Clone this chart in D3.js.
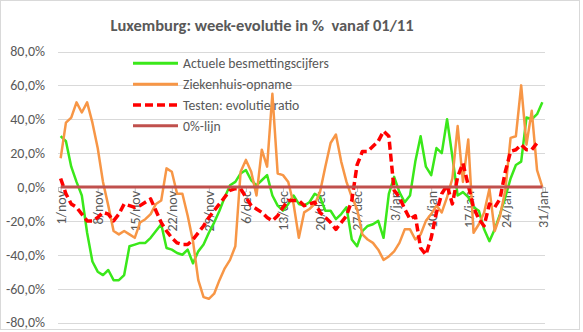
<!DOCTYPE html>
<html>
<head>
<meta charset="utf-8">
<script src="https://cdn.jsdelivr.net/npm/d3@7"></script>
<style>
  body { margin: 0; background: #fff; }
  svg { display: block; }
  text { font-family: Calibri, Carlito, Lato, "Open Sans", sans-serif; fill: #595959; }
</style>
</head>
<body>
<svg id="chart" width="583" height="332"></svg>
<script>
// Daily categories: 1 November 2020 – 31 January 2021
const dates = d3.timeDay.range(new Date(2020, 10, 1), new Date(2021, 1, 1));

// Week-on-week evolution in %, one value per day
const besmettingen = [
  30, 27, 12, 3, -5, -27, -44, -50, -52, -49,
  -55, -55, -52, -35, -34, -33, -33, -30, -26, -22,
  -36, -37, -39, -40, -37, -45, -38, -34, -27, -21,
  -14, -6, 1, 3, 8, 10, 4, 1, 4, 7,
  -5, -11, -14, -10, -5, -10, -11, -9, -4, -6,
  -14, -14, -19, -16, -12, -31, -35, -26, -23, -22,
  -20, -30, -4, 6, -3, -9, -5, 15, 30, 12,
  7, 23, 20, 40, 18, -5, -3, -6, -12, -14,
  -25, -32, -25, -16, -6, 5, 13, 15, 41, 40,
  43, 50
];

const ziekenhuis = [
  17, 38, 41, 50, 44, 50, 38, 23, 3, -11,
  -26, -28, -26, -28, -30, -21, -19, -16, -10, -8,
  11, 9, -4, -4, -17, -32, -55, -65, -66, -63,
  -55, -48, -43, -35, 9, 16, 9, -5, 22, 12,
  55, 8, 7, 3, -10, -30, -15, -13, -10, -3,
  12, 26, 31, 15, 3, -6, -13, -28, -31, -33,
  -37, -43, -41, -38, -33, -25, -25, -31, -28, -20,
  -16, -11, -15, -6, 5, 36, 3, 28, -27, -22,
  -15, -1, -26, -17, -2, 29, 30, 60, 25, 45,
  10, 0
];

const testen = [
  5, -4, -10, -12, -16, -20, -20, -18, -15, -16,
  -20, -16, -10, -11, -12, -11, -9, -7, -14, -21,
  -26, -30, -33, -34, -34, -31, -27, -23, -18, -14,
  -10, -6, -2, -1, -1, -6, -11, -13, -15, -18,
  -20, -17, -12, -8, -8, -8, -11, -10, -9, -15,
  -18, -21, -25, -21, -17, -8, 13, 21, 21, 24,
  27, 33, 30, -2, -6, -13, -19, -17, -36, -40,
  -30, -15, -4, 1, -10, 6, 14, 1, -12, -19,
  -23, -10, -12, -7, 9, 21, 22, 25, 22, 22,
  26, null
];

const nulLijn = dates.map(() => 0);

const yTicks = [-0.8, -0.6, -0.4, -0.2, 0, 0.2, 0.4, 0.6, 0.8];
const xTickIndex = [0, 7, 14, 21, 28, 35, 42, 49, 56, 63, 70, 77, 84, 91];
const xTickLabels = ["1/nov", "8/nov", "15/nov", "22/nov", "29/nov", "6/dec", "13/dec",
                     "20/dec", "27/dec", "3/jan", "10/jan", "17/jan", "24/jan", "31/jan"];

const seriesNames = ["Actuele besmettingscijfers", "Ziekenhuis-opname", "Testen: evolutie ratio", "0%-lijn"];

const svg = d3.select("#chart");
const W = 583, H = 332;
const plot = { left: 58, right: 545, top: 51.5, bottom: 322.5 };

// chart area border
svg.append("rect")
  .attr("x", 0.5).attr("y", 0.5)
  .attr("width", W - 4).attr("height", H - 3)
  .attr("fill", "#fff").attr("stroke", "#d9d9d9");

const x = d3.scalePoint()
  .domain(d3.range(dates.length))
  .range([plot.left, plot.right])
  .padding(0.5);

const y = d3.scaleLinear()
  .domain([-0.8, 0.8])
  .range([plot.bottom, plot.top]);

const locale = d3.formatLocale({ decimal: ",", thousands: ".", grouping: [3], currency: ["€", ""], minus: "-", percent: "%" });
const pct = locale.format(".1%");

// horizontal gridlines
svg.append("g")
  .selectAll("line")
  .data(yTicks)
  .join("line")
  .attr("x1", plot.left).attr("x2", plot.right)
  .attr("y1", d => Math.round(y(d)) + 0.5).attr("y2", d => Math.round(y(d)) + 0.5)
  .attr("stroke", "#d9d9d9").attr("stroke-width", 1);

// value axis
const yAxis = svg.append("g")
  .attr("transform", `translate(${plot.left},0)`)
  .call(d3.axisLeft(y).tickValues(yTicks).tickFormat(pct).tickSize(0).tickPadding(13));
yAxis.select(".domain").remove();
yAxis.selectAll("text")
  .style("font-size", "14px")
  .attr("fill", "#595959");

// category axis crossing at 0
const xAxis = svg.append("g")
  .attr("transform", `translate(0,${y(0)})`)
  .call(d3.axisBottom(x).tickValues(xTickIndex).tickFormat((d, i) => xTickLabels[i]).tickSize(5));
xAxis.select(".domain").attr("stroke", "#bfbfbf");
xAxis.selectAll(".tick line").attr("stroke", "#bfbfbf");
xAxis.selectAll(".tick text")
  .style("font-size", "14px")
  .attr("fill", "#595959")
  .attr("text-anchor", "end")
  .attr("transform", "rotate(-90)")
  .attr("x", -4)
  .attr("y", 0)
  .attr("dy", "0.35em");

const line = d3.line()
  .defined(d => d != null)
  .x((d, i) => x(i))
  .y(d => y(d / 100));

const styles = [
  { data: besmettingen, color: "#3ae81a", width: 2.5, dash: null },
  { data: ziekenhuis, color: "#f79646", width: 2.5, dash: null },
  { data: testen, color: "#ff0000", width: 3.5, dash: "8,4" },
  { data: nulLijn, color: "#c0504d", width: 3, dash: null }
];

svg.append("g")
  .selectAll("path")
  .data(styles)
  .join("path")
  .attr("d", s => line(s.data))
  .attr("fill", "none")
  .attr("stroke", s => s.color)
  .attr("stroke-width", s => s.width)
  .attr("stroke-dasharray", s => s.dash)
  .attr("stroke-linejoin", "round");

// title
svg.append("text")
  .attr("x", 262).attr("y", 31)
  .attr("text-anchor", "middle")
  .style("font-size", "16.5px")
  .style("font-weight", "bold")
  .attr("xml:space", "preserve")
  .text("Luxemburg: week-evolutie in %  vanaf 01/11");

// legend
const legend = svg.append("g");
const rowY = [63.3, 84.2, 105, 125.8];
styles.forEach((s, i) => {
  legend.append("line")
    .attr("x1", 133).attr("x2", 178)
    .attr("y1", rowY[i]).attr("y2", rowY[i])
    .attr("stroke", s.color)
    .attr("stroke-width", s.dash ? 3.5 : 3)
    .attr("stroke-dasharray", s.dash);
  legend.append("text")
    .attr("x", 183).attr("y", rowY[i])
    .attr("dy", "0.35em")
    .style("font-size", "13.7px")
    .text(seriesNames[i]);
});
</script>
</body>
</html>
